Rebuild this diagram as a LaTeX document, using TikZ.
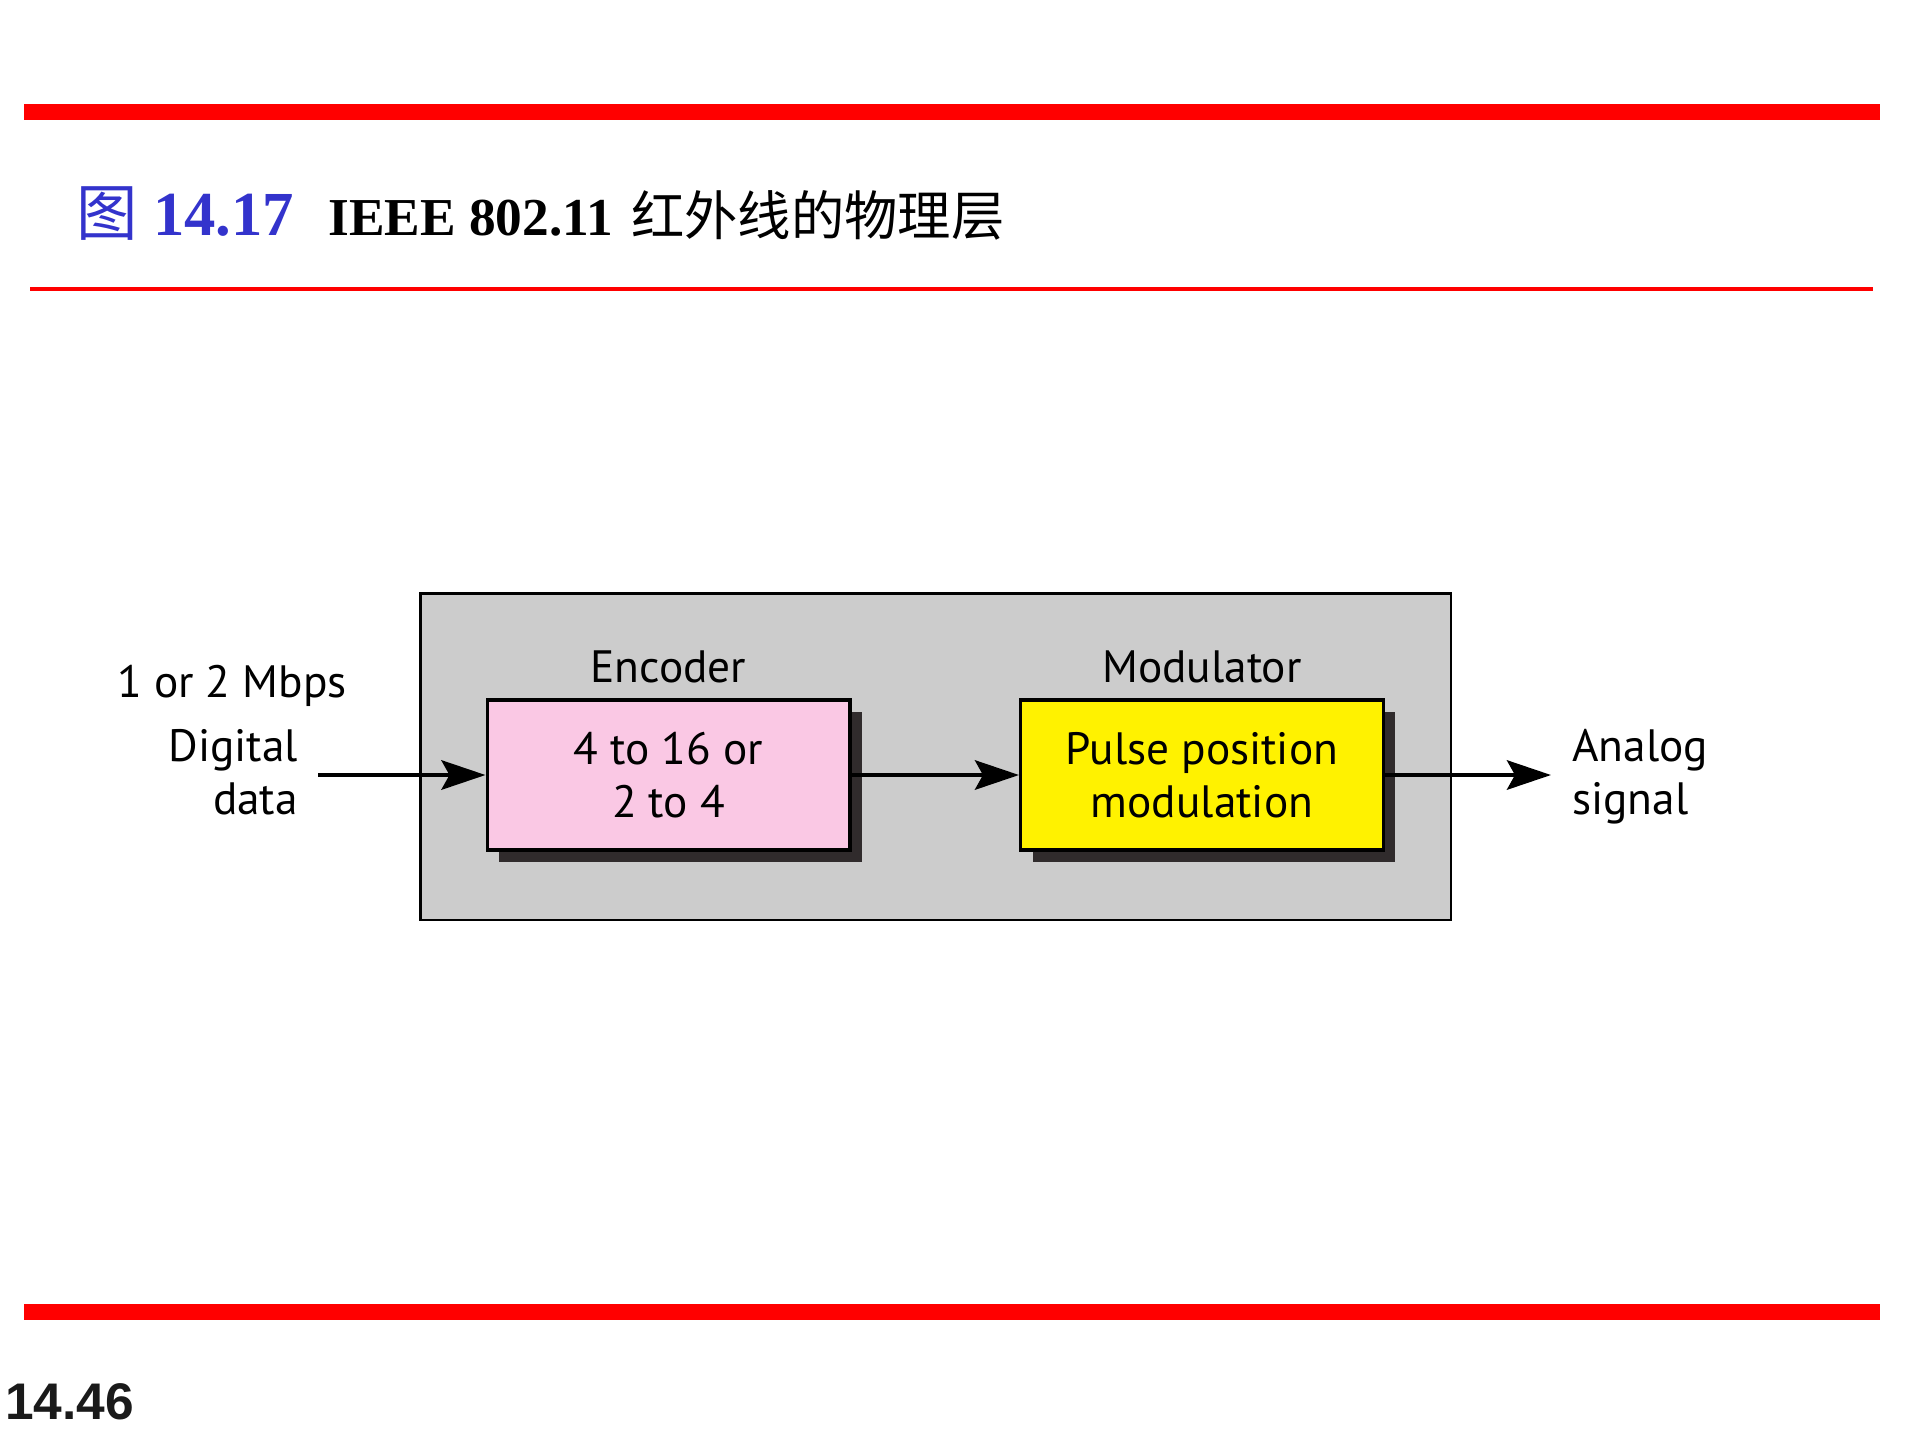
\documentclass[tikz,border=0pt]{standalone}
\usepackage{fontspec}
\setmainfont{PT Sans}
\newfontfamily\titlefont{Liberation Serif}
\newfontfamily\cjkfont{Noto Sans CJK SC}
\newfontfamily\pagefont{Liberation Sans}
\usetikzlibrary{arrows.meta, positioning, shadows}

\definecolor{titleblue}{RGB}{51,51,204}
\definecolor{boxgray}{RGB}{204,204,204}
\definecolor{encpink}{RGB}{250,200,228}
\definecolor{shadowgray}{RGB}{48,43,44}
\definecolor{pagegray}{RGB}{26,26,26}

\tikzset{
	unitbox/.style={draw=black, line width=2.5pt, minimum width=272pt, minimum height=112.5pt, align=center, inner sep=0pt,
		drop shadow={shadow xshift=9pt, shadow yshift=-9pt, fill=shadowgray, opacity=1}},
	flow/.style={line width=3.5pt, -{Stealth[length=33pt, width=22pt, inset=6pt]}},
	lbl/.style={inner sep=0pt, font=\fontsize{34}{40}\selectfont},
	rule/.style={draw=red, line width=#1},
}

\begin{document}
\begin{tikzpicture}[x=0.75pt,y=0.75pt,yscale=-1,xscale=1]
		\useasboundingbox (0,0) rectangle (1920,1440);

		% red rules
		\draw [rule=12pt] (24,111.5) -- (1880,111.5) ;
		\draw [rule=3pt] (30,288.5) -- (1873,288.5) ;
		\draw [rule=12pt] (24,1311.5) -- (1880,1311.5) ;

		% Title
		\node [anchor=base west, inner sep=0pt, text=titleblue, font=\cjkfont\fontsize{46}{46}\selectfont] (fighead) at (76,235) {图};
		\node [anchor=base west, inner sep=0pt, text=titleblue, font=\titlefont\bfseries\fontsize{47}{47}\selectfont] (fignum) at (153,235) {14.17};
		\node [anchor=base west, inner sep=0pt, font=\titlefont\bfseries\fontsize{40}{40}\selectfont] (ieee) at (328,235) {IEEE 802.11};
		\node [anchor=base west, inner sep=0pt, font=\cjkfont\fontsize{40}{40}\selectfont] (irphy) at (631,235) {红外线的物理层};

		% Shape: outer box
		\node [draw, line width=2pt, fill=boxgray, minimum width=773pt, minimum height=245pt, inner sep=0pt] (coder) at (935.5,756.5) {};

		% Shape: encoder and modulator
		\node [unitbox, fill=encpink, lbl] (enc) at (668.5,775) {4 to 16 or\\2 to 4};
		\node [unitbox, fill=yellow, lbl] (mod) at (1202,775) {Pulse position\\modulation};

		% Text Node
		\node [lbl, anchor=base] (enclbl) at (668.5,682) {Encoder};
		% Text Node
		\node [lbl, anchor=base] (modlbl) at (1202,682) {Modulator};
		% Text Node
		\node [lbl, anchor=base] (rate) at (232,697) {1 or 2 Mbps};
		% Text Node
		\node [lbl, align=right, anchor=east] (digdata) at (298,772) {Digital\\data};
		% Text Node
		\node [lbl, align=left, anchor=west] (analog) at (1572,777) {Analog\\signal};

		% Straight Lines
		\coordinate (datain) at (318,775);
		\coordinate (sigout) at (1551,775);
		\draw [flow] (datain) -- (enc.west) ;
		\draw [flow] (enc.east) -- (mod.west) ;
		\draw [flow] (mod.east) -- (sigout) ;

		% page number
		\node [anchor=base west, inner sep=0pt, text=pagegray, font=\pagefont\bfseries\fontsize{38.6}{40}\selectfont] (pageno) at (5,1419) {14.46};

	\end{tikzpicture}
\end{document}
